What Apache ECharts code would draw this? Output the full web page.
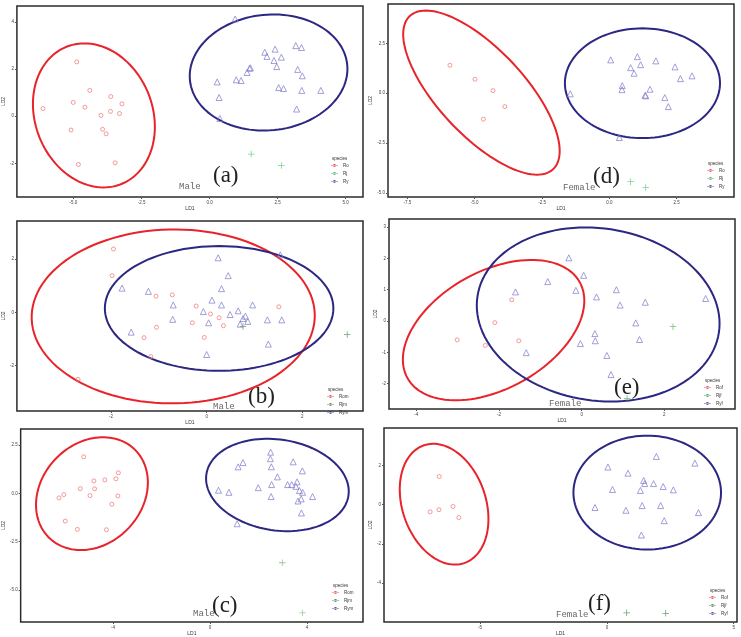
<!DOCTYPE html>
<html>
<head>
<meta charset="utf-8">
<script src="https://cdn.jsdelivr.net/npm/echarts@6/dist/echarts.min.js"></script>
<style>
  html, body { margin: 0; background: #fff; }
  #main { width: 741px; height: 637px; }
</style>
</head>
<body>
<div id="main"></div>
<script>
// ---- data (LD1, LD2) ----
// (a) male
const aRo = [[-4.88,2.30],[-4.40,1.09],[-5.01,0.58],[-3.63,0.83],[-3.22,0.52],[-6.12,0.32],[-4.58,0.38],[-3.64,0.20],[-3.99,0.03],[-3.31,0.11],[-5.09,-0.59],[-3.93,-0.56],[-3.80,-0.75],[-4.82,-2.05],[-3.47,-1.98]]
const aRj = [[1.53,-1.61],[2.64,-2.09]]
const aRy = [[0.94,4.12],[0.28,1.45],[0.35,0.79],[0.38,-0.10],[0.98,1.54],[1.16,1.51],[1.38,1.85],[1.47,2.03],[1.50,2.05],[2.03,2.71],[2.11,2.53],[2.41,2.84],[2.37,2.36],[2.64,2.50],[2.47,2.10],[2.54,1.21],[2.72,1.17],[3.17,2.99],[3.38,2.91],[3.24,1.98],[3.41,1.71],[3.39,1.09],[4.09,1.09],[3.20,0.30]]
// ellipses: [cx, cy, axis1 dx, axis1 dy, axis2 dx, axis2 dy]
const aEllRo = [-4.25, 0.03, -1.01, 2.91, 2.00, 0.93]
const aEllRy = [2.17, 1.85, 2.89, 0.33, 0.21, -2.44]
const aXTicks = [-5, -2.5, 0, 2.5, 5]
const aYTicks = [-2, 0, 2, 4]

// (d) female
const dRo = [[-5.92,1.40],[-4.99,0.70],[-4.32,0.13],[-3.88,-0.67],[-4.68,-1.30]]
const dRj = [[0.79,-4.43],[1.35,-4.73]]
const dRy = [[-1.45,-0.03],[0.05,1.67],[1.04,1.83],[1.16,1.43],[1.73,1.62],[0.79,1.28],[0.92,1.00],[2.44,1.32],[2.64,0.73],[3.07,0.87],[0.48,0.38],[0.47,0.18],[1.51,0.20],[1.33,-0.10],[1.35,-0.13],[2.06,-0.22],[2.19,-0.67],[0.37,-2.22]]
const dEllRo = [-4.75, 0.03, 2.66, -3.84, -1.17, -1.47]
const dEllRy = [1.23, 0.5, 2.88, 0, 0, 2.75]
const dXTicks = [-7.5, -5, -2.5, 0, 2.5]
const dYTicks = [-5, -2.5, 0, 2.5]

// (b) male
const bRom = [[-1.95,2.38],[-1.98,1.38],[-1.06,0.61],[-0.72,0.66],[-0.22,0.24],[0.08,-0.06],[0.26,-0.20],[0.35,-0.50],[-0.30,-0.39],[-1.05,-0.56],[-1.31,-0.95],[-1.17,-1.66],[-0.05,-0.94],[1.51,0.21],[-2.69,-2.51]]
const bRjm = [[0.76,-0.53],[2.94,-0.83]]
const bRym = [[0.24,2.05],[0.45,1.38],[0.31,0.89],[1.54,2.16],[-1.77,0.91],[-1.22,0.79],[-0.70,0.28],[-0.71,-0.26],[-1.58,-0.74],[0.11,0.46],[-0.07,0.03],[0.04,-0.39],[0.31,0.28],[0.49,-0.08],[0.66,0.06],[0.81,-0.14],[0.76,-0.23],[0.86,-0.34],[0.70,-0.44],[0.96,0.28],[1.27,-0.28],[1.57,-0.28],[1.29,-1.19],[0.00,-1.58]]
const bEllRom = [-0.70, -0.15, 2.96, 0.12, -0.08, 3.26]
const bEllRym = [0.26, 0.15, 2.39, 0, 0, 2.34]
const bXTicks = [-2, 0, 2]
const bYTicks = [-2, 0, 2]

// (e) female
const eRof = [[-1.69,0.68],[-2.10,-0.05],[-3.01,-0.60],[-2.33,-0.78],[-1.52,-0.63]]
const eRjf = [[2.21,-0.18],[1.10,-2.47]]
const eRyf = [[-0.31,2.02],[0.05,1.46],[-0.82,1.26],[-0.14,0.98],[-1.60,0.93],[0.36,0.77],[0.84,1.00],[0.93,0.51],[1.54,0.60],[3.00,0.72],[1.31,-0.06],[0.32,-0.40],[0.33,-0.63],[1.40,-0.59],[-0.03,-0.72],[-1.34,-1.01],[0.61,-1.10],[0.71,-1.71]]
const eEllRof = [-2.13, -0.29, 2.08, 1.54, 0.70, -1.63]
const eEllRyf = [0.40, 0.21, 2.92, -0.58, -0.31, -2.72]
const eXTicks = [-4, -2, 0, 2]
const eYTicks = [-2, -1, 0, 1, 2, 3]

// (c) male
const cRom = [[-5.21,1.89],[-3.78,1.06],[-3.88,0.75],[-4.34,0.69],[-4.79,0.64],[-5.35,0.24],[-4.76,0.23],[-4.95,-0.12],[-6.03,-0.07],[-6.23,-0.24],[-3.80,-0.14],[-4.05,-0.57],[-5.97,-1.44],[-5.47,-1.87],[-4.27,-1.89]]
const cRjm = [[2.98,-3.60],[3.82,-6.20]]
const cRym = [[2.50,2.13],[2.49,1.79],[1.36,1.59],[1.16,1.37],[2.53,1.37],[3.43,1.63],[3.81,1.16],[2.78,0.85],[2.54,0.45],[3.20,0.45],[3.37,0.45],[3.54,0.36],[3.59,0.59],[3.69,0.14],[3.82,0.05],[4.23,-0.17],[3.76,-0.29],[3.63,-0.40],[2.52,-0.17],[1.99,0.29],[0.35,0.16],[0.78,0.05],[3.77,-1.02],[1.12,-1.58]]
const cEllRom = [-4.87, -0.02, 1.81, 2.23, 1.43, -1.89]
const cEllRym = [2.78, 0.43, 2.93, -0.55, -0.27, -2.33]
const cXTicks = [-4, 0, 4]
const cYTicks = [-5, -2.5, 0, 2.5]

// (f) female
const fRof = [[-6.61,1.43],[-6.97,-0.37],[-6.62,-0.26],[-6.07,-0.10],[-5.84,-0.66]]
const fRjf = [[0.78,-5.51],[2.32,-5.54]]
const fRyf = [[1.95,2.45],[0.04,1.91],[3.47,2.11],[0.83,1.60],[1.45,1.23],[1.49,1.07],[1.84,1.07],[2.22,0.92],[2.62,0.75],[0.22,0.77],[1.32,0.72],[-0.47,-0.15],[0.75,-0.29],[1.39,-0.05],[2.12,-0.05],[3.61,-0.41],[2.26,-0.82],[1.36,-1.55]]
const fEllRof = [-6.42, 0.02, -0.79, 3.00, 1.56, 0.68]
const fEllRyf = [1.59, 0.61, 2.91, 0, 0, 2.90]
const fXTicks = [-5, 0, 5]
const fYTicks = [-4, -2, 0, 2]

// ---- panel layout ----
const panels = [
  { tag: '(a)', sex: 'Male', names: ['Ro', 'Rj', 'Ry'], red: aRo, green: aRj, blue: aRy, ellRed: aEllRo, ellBlue: aEllRy,
    xTicks: aXTicks, yTicks: aYTicks, xDec: 1, yDec: 0, x: [-7.08, 5.64], y: [-3.43, 4.67],
    grid: { left: 16, top: 6, width: 347, height: 191 }, tagPos: [213, 164], sexPos: [179, 182], legPos: [331, 163], green1: '#2fa24a', green2: '#5cc475' },
  { tag: '(d)', sex: 'Female', names: ['Ro', 'Rj', 'Ry'], red: dRo, green: dRj, blue: dRy, ellRed: dEllRo, ellBlue: dEllRy,
    xTicks: dXTicks, yTicks: dYTicks, xDec: 1, yDec: 1, x: [-8.22, 4.63], y: [-5.2, 4.47],
    grid: { left: 388, top: 4, width: 346, height: 193 }, tagPos: [593, 165], sexPos: [563, 183], legPos: [707, 168], green1: '#2fa24a', green2: '#5cc475' },
  { tag: '(b)', sex: 'Male', names: ['Rom', 'Rjm', 'Rym'], red: bRom, green: bRjm, blue: bRym, ellRed: bEllRom, ellBlue: bEllRym,
    xTicks: bXTicks, yTicks: bYTicks, xDec: 0, yDec: 0, x: [-3.97, 3.27], y: [-3.7, 3.43],
    grid: { left: 16, top: 221, width: 347, height: 190 }, tagPos: [248, 385], sexPos: [213, 402], legPos: [327, 394], green1: '#2e6e2e', green2: '#4a8a4a' },
  { tag: '(e)', sex: 'Female', names: ['Rof', 'Rjf', 'Ryf'], red: eRof, green: eRjf, blue: eRyf, ellRed: eEllRof, ellBlue: eEllRyf,
    xTicks: eXTicks, yTicks: eYTicks, xDec: 0, yDec: 0, x: [-4.66, 3.71], y: [-2.81, 3.26],
    grid: { left: 389, top: 219, width: 346, height: 190 }, tagPos: [614, 376], sexPos: [549, 399], legPos: [704, 385], green1: '#2e8a3a', green2: '#4caf5c' },
  { tag: '(c)', sex: 'Male', names: ['Rom', 'Rjm', 'Rym'], red: cRom, green: cRjm, blue: cRym, ellRed: cEllRom, ellBlue: cEllRym,
    xTicks: cXTicks, yTicks: cYTicks, xDec: 0, yDec: 1, x: [-7.81, 6.31], y: [-6.67, 3.33],
    grid: { left: 17, top: 429, width: 346, height: 193 }, tagPos: [212, 594], sexPos: [193, 609], legPos: [332, 590], green1: '#2e6e2e', green2: '#7fb87f' },
  { tag: '(f)', sex: 'Female', names: ['Rof', 'Rjf', 'Ryf'], red: fRof, green: fRjf, blue: fRyf, ellRed: fEllRof, ellBlue: fEllRyf,
    xTicks: fXTicks, yTicks: fYTicks, xDec: 0, yDec: 0, x: [-8.79, 5.13], y: [-5.98, 3.90],
    grid: { left: 384, top: 428, width: 353, height: 194 }, tagPos: [588, 592], sexPos: [556, 610], legPos: [709, 595], green1: '#2e6e2e', green2: '#4a8a4a' }
]

const RED_PT = '#ef7373'
const RED_ELL = '#e8232a'
const BLUE_PT = '#7d7ac8'
const BLUE_ELL = '#2b2782'
const legendIcon = 'path://M0 2.5h12v1H0z M6 0.5a2.5 2.5 0 1 0 0.001 0z'
const crossIcon = 'path://M4.4 0h1.2v4.4h4.4v1.2h-4.4v4.4h-1.2v-4.4h-4.4v-1.2h4.4z'

// ellipse drawn as the image of a circle through two semi-axis vectors
function ellipseRenderer(color) {
  return function (params, api) {
    const cx = api.value(0), cy = api.value(1)
    const c = api.coord([cx, cy])
    const pa = api.coord([cx + api.value(2), cy + api.value(3)])
    const pb = api.coord([cx + api.value(4), cy + api.value(5)])
    const ua = [pa[0] - c[0], pa[1] - c[1]]
    const ub = [pb[0] - c[0], pb[1] - c[1]]
    const pts = []
    for (let i = 0; i < 120; i++) {
      const t = i / 120 * Math.PI * 2
      pts.push([c[0] + Math.cos(t) * ua[0] + Math.sin(t) * ub[0], c[1] + Math.cos(t) * ua[1] + Math.sin(t) * ub[1]])
    }
    return { type: 'polygon', shape: { points: pts }, style: { fill: 'none', stroke: color, lineWidth: 2 } }
  }
}

const grid = [], xAxis = [], yAxis = [], series = [], legend = [], graphic = []
panels.forEach((p, i) => {
  grid.push(Object.assign({ show: true, borderColor: '#2b2b2b', borderWidth: 1.5, backgroundColor: '#fff' }, p.grid))
  xAxis.push({
    type: 'value', gridIndex: i, min: p.x[0], max: p.x[1],
    name: 'LD1', nameLocation: 'middle', nameGap: 8, nameTextStyle: { fontSize: 5, color: '#333' },
    axisLine: { show: false, onZero: false }, splitLine: { show: false },
    axisTick: { show: true, length: 2, customValues: p.xTicks, lineStyle: { color: '#555' } },
    axisLabel: { fontSize: 4.5, color: '#444', margin: 3, customValues: p.xTicks, formatter: v => Number(v).toFixed(p.xDec) }
  })
  yAxis.push({
    type: 'value', gridIndex: i, min: p.y[0], max: p.y[1],
    name: 'LD2', nameLocation: 'middle', nameGap: 9, nameTextStyle: { fontSize: 5, color: '#333' },
    axisLine: { show: false, onZero: false }, splitLine: { show: false },
    axisTick: { show: true, length: 2, customValues: p.yTicks, lineStyle: { color: '#555' } },
    axisLabel: { fontSize: 4.5, color: '#444', margin: 3, customValues: p.yTicks, formatter: v => Number(v).toFixed(p.yDec) }
  })
  series.push(
    { type: 'custom', name: p.names[0] + ' ellipse', xAxisIndex: i, yAxisIndex: i, data: [p.ellRed], renderItem: ellipseRenderer(RED_ELL), silent: true, z: 1 },
    { type: 'custom', name: p.names[2] + ' ellipse', xAxisIndex: i, yAxisIndex: i, data: [p.ellBlue], renderItem: ellipseRenderer(BLUE_ELL), silent: true, z: 1 },
    { type: 'scatter', name: p.names[0], xAxisIndex: i, yAxisIndex: i, data: p.red, symbol: 'circle', symbolSize: 4,
      itemStyle: { color: 'rgba(255,255,255,0)', borderColor: RED_PT, borderWidth: 0.9 }, z: 3 },
    { type: 'scatter', name: p.names[1], xAxisIndex: i, yAxisIndex: i, data: p.green, symbol: crossIcon, symbolSize: 6.5,
      itemStyle: { color: p.green2 }, z: 3 },
    { type: 'scatter', name: p.names[2], xAxisIndex: i, yAxisIndex: i, data: p.blue, symbol: 'triangle', symbolSize: 6,
      itemStyle: { color: 'rgba(255,255,255,0)', borderColor: BLUE_PT, borderWidth: 0.9 }, z: 3 }
  )
  legend.push({
    orient: 'vertical', left: p.legPos[0], top: p.legPos[1], itemWidth: 7, itemHeight: 4, itemGap: 3,
    selectedMode: false, padding: 0, textStyle: { fontSize: 4.5, color: '#333' },
    data: [
      { name: p.names[0], icon: legendIcon, itemStyle: { color: RED_ELL, borderWidth: 0 } },
      { name: p.names[1], icon: legendIcon, itemStyle: { color: p.green1, borderWidth: 0 } },
      { name: p.names[2], icon: legendIcon, itemStyle: { color: BLUE_ELL, borderWidth: 0 } }
    ]
  })
  graphic.push(
    { type: 'text', left: p.legPos[0] + 1, top: p.legPos[1] - 7, style: { text: 'species', fontSize: 4.5, fill: '#333' } },
    { type: 'text', left: p.tagPos[0], top: p.tagPos[1], style: { text: p.tag, fontSize: 23, fontFamily: 'Liberation Serif', fill: '#222' } },
    { type: 'text', left: p.sexPos[0], top: p.sexPos[1], style: { text: p.sex, fontSize: 9, fontFamily: 'Liberation Mono', fill: '#666' } }
  )
})

const chart = echarts.init(document.getElementById('main'))
chart.setOption({
  animation: false,
  backgroundColor: '#fff',
  grid, xAxis, yAxis, series, legend, graphic
})
</script>
</body>
</html>
